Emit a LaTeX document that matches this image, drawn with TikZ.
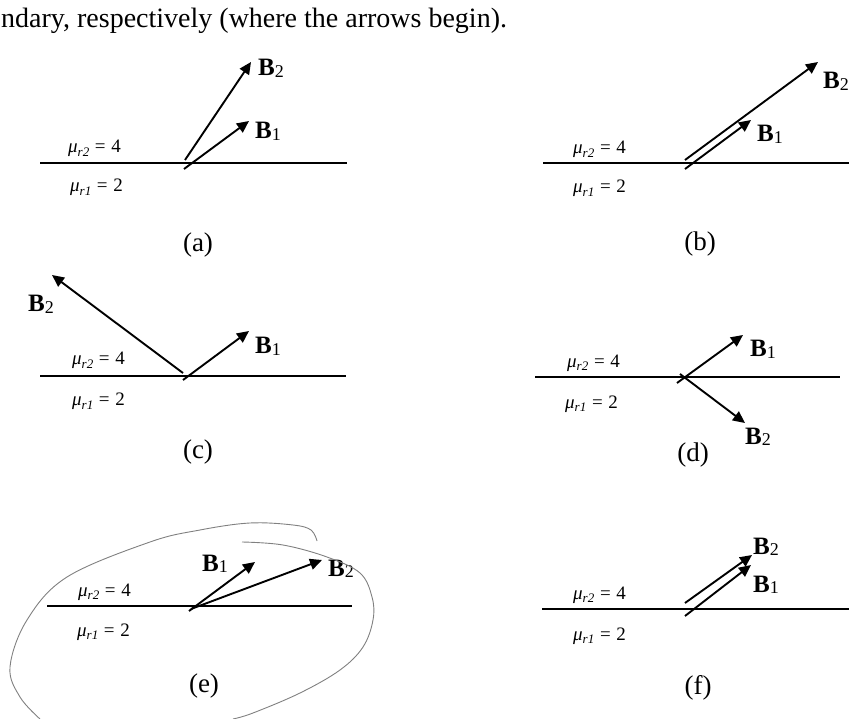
\documentclass[tikz,border=0pt]{standalone}
\usepackage{fontspec}
\setmainfont{Liberation Serif}
\usetikzlibrary{arrows.meta}
\newcommand\Bvec[1]{\textbf{B}\raisebox{-0.12ex}{\fontsize{18}{18}\selectfont #1}}
\newcommand\murel[2]{{\itshape μ}\raisebox{-0.4ex}{\fontsize{13}{13}\selectfont\itshape r#1}\hspace{0.3em}=\hspace{0.3em}#2}
\begin{document}
\begin{tikzpicture}[x=1pt,y=-1pt,
  vec/.style={line width=1.9pt,-{Triangle[length=12pt,width=11pt]}},
  bnd/.style={line width=1.3pt},
  mulab/.style={font=\fontsize{19}{19}\selectfont,inner sep=0pt,anchor=base west},
  blab/.style={font=\fontsize{25}{25}\selectfont,inner sep=0pt,anchor=base west},
  caplab/.style={font=\fontsize{27}{27}\selectfont,inner sep=0pt,anchor=base},
  pen/.style={draw=black!50,line width=0.9pt}]
\useasboundingbox (0,0) rectangle (849,719);
\node[font=\fontsize{28}{28}\selectfont,inner sep=0pt,anchor=base west] (top) at (1,28) {ndary, respectively (where the arrows begin).};

% (a)
\coordinate (aL) at (40,163); \coordinate (aR) at (347,163);
\draw[bnd] (aL) -- (aR);
\coordinate (a2s) at (185,160); \coordinate (a2e) at (251,62);
\coordinate (a1s) at (184,169); \coordinate (a1e) at (249,121);
\draw[vec] (a2s) -- (a2e);
\draw[vec] (a1s) -- (a1e);
\node[blab] (aB2) at (258,76) {\Bvec{2}};
\node[blab] (aB1) at (255,139) {\Bvec{1}};
\node[mulab] (amu2) at (68,153) {\murel{2}{4}};
\node[mulab] (amu1) at (70,192) {\murel{1}{2}};
\node[caplab] (acap) at (198,252) {(a)};

% (b)
\coordinate (bL) at (543,163); \coordinate (bR) at (849,163);
\draw[bnd] (bL) -- (bR);
\coordinate (b2s) at (685,160); \coordinate (b2e) at (818,62);
\coordinate (b1s) at (685,169); \coordinate (b1e) at (751,120);
\draw[vec] (b2s) -- (b2e);
\draw[vec] (b1s) -- (b1e);
\node[blab] (bB2) at (823,89) {\Bvec{2}};
\node[blab] (bB1) at (757,142) {\Bvec{1}};
\node[mulab] (bmu2) at (573,154) {\murel{2}{4}};
\node[mulab] (bmu1) at (573,193) {\murel{1}{2}};
\node[caplab] (bcap) at (700,251) {(b)};

% (c)
\coordinate (cL) at (40,376); \coordinate (cR) at (346,376);
\draw[bnd] (cL) -- (cR);
\coordinate (c2s) at (183,373); \coordinate (c2e) at (52,275);
\coordinate (c1s) at (183,380); \coordinate (c1e) at (249,331);
\draw[vec] (c2s) -- (c2e);
\draw[vec] (c1s) -- (c1e);
\node[blab] (cB2) at (28,312) {\Bvec{2}};
\node[blab] (cB1) at (255,354) {\Bvec{1}};
\node[mulab] (cmu2) at (72,365) {\murel{2}{4}};
\node[mulab] (cmu1) at (72,406) {\murel{1}{2}};
\node[caplab] (ccap) at (198,458) {(c)};

% (d)
\coordinate (dL) at (535,377); \coordinate (dR) at (840,377);
\draw[bnd] (dL) -- (dR);
\coordinate (d1s) at (677,383); \coordinate (d1e) at (743,335);
\coordinate (d2s) at (680,374); \coordinate (d2e) at (745,423);
\draw[vec] (d1s) -- (d1e);
\draw[vec] (d2s) -- (d2e);
\node[blab] (dB1) at (750,357) {\Bvec{1}};
\node[blab] (dB2) at (745,444) {\Bvec{2}};
\node[mulab] (dmu2) at (567,367) {\murel{2}{4}};
\node[mulab] (dmu1) at (565,408) {\murel{1}{2}};
\node[caplab] (dcap) at (693,461) {(d)};

% (e)
\coordinate (eL) at (47,606); \coordinate (eR) at (352,606);
\draw[bnd] (eL) -- (eR);
\coordinate (e1s) at (189,611); \coordinate (e1e) at (255,562);
\coordinate (e2s) at (191,609); \coordinate (e2e) at (322,560);
\draw[vec] (e1s) -- (e1e);
\draw[vec] (e2s) -- (e2e);
\node[blab] (eB1) at (202,571) {\Bvec{1}};
\node[blab] (eB2) at (328,576) {\Bvec{2}};
\node[mulab] (emu2) at (78,596) {\murel{2}{4}};
\node[mulab] (emu1) at (77,636) {\murel{1}{2}};
\node[caplab] (ecap) at (204,692) {(e)};
\draw[pen] plot[smooth,tension=0.6] coordinates {(317,541) (311,530) (293,525) (250,523) (200,530) (150,542) (67,577) (27,620) (10,667) (20,697) (40,719)};
\draw[pen] plot[smooth,tension=0.6] coordinates {(242,542) (283,545) (327,557) (360,573) (372,597) (373,620) (363,647) (340,670) (300,693) (253,713) (233,719)};

% (f)
\coordinate (fL) at (542,609); \coordinate (fR) at (849,609);
\draw[bnd] (fL) -- (fR);
\coordinate (f2s) at (685,603); \coordinate (f2e) at (752,555);
\coordinate (f1s) at (685,616); \coordinate (f1e) at (751,565);
\draw[vec] (f2s) -- (f2e);
\draw[vec] (f1s) -- (f1e);
\node[blab] (fB2) at (753,554) {\Bvec{2}};
\node[blab] (fB1) at (753,592) {\Bvec{1}};
\node[mulab] (fmu2) at (573,599) {\murel{2}{4}};
\node[mulab] (fmu1) at (573,640) {\murel{1}{2}};
\node[caplab] (fcap) at (698,694) {(f)};
\end{tikzpicture}
\end{document}
